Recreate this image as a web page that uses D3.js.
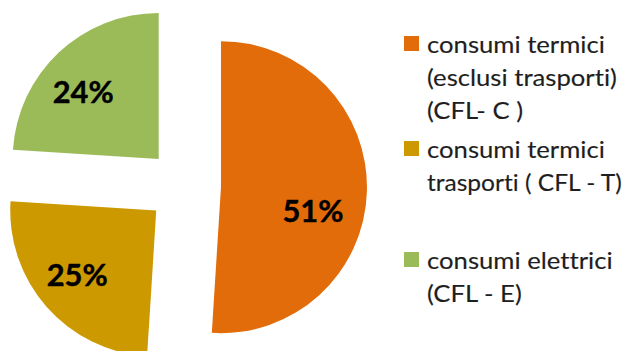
<!DOCTYPE html>
<html>
<head>
<meta charset="utf-8">
<script src="https://cdn.jsdelivr.net/npm/d3@7/dist/d3.min.js"></script>
<style>
  html, body { margin: 0; padding: 0; background: #ffffff; }
  svg { display: block; }
  text { font-variant-ligatures: none; }
</style>
</head>
<body>
<svg id="chart" width="624" height="351"></svg>
<script>
// ---- data ----
const categories = [
  "consumi termici\n(esclusi trasporti)\n(CFL- C )",
  "consumi termici\ntrasporti ( CFL - T)",
  "consumi elettrici\n(CFL - E)"
];
const values = [51, 25, 24];
const valueLabels = ["51%", "25%", "24%"];
const colors = ["#E36C0A", "#CC9900", "#9BBB59"];

// ---- layout ----
const W = 624, H = 351;
const cx = 184, cy = 186, radius = 146, explode = 37;
const labelRadius = 100;
const labelNudge = [[-8, 20], [-4, -2], [-7, 5]];
const legendX = 404, legendTextX = 427, sq = 15;
const legendBaselines = [53, 158, 269];
const lineH = 33;
const fontFamily = "Lato, 'Open Sans', 'Noto Sans', sans-serif";

const svg = d3.select("#chart");

const pie = d3.pie().sort(null).value(d => d)
  .startAngle(0).endAngle(2 * Math.PI);
const arcs = pie(values);
const arc = d3.arc().innerRadius(0).outerRadius(radius);
const labelArc = d3.arc().innerRadius(labelRadius).outerRadius(labelRadius);

const g = svg.append("g").attr("transform", `translate(${cx},${cy})`);

const slices = g.selectAll("g.slice").data(arcs).join("g")
  .attr("class", "slice")
  .attr("transform", d => {
    const mid = (d.startAngle + d.endAngle) / 2;
    return `translate(${explode * Math.sin(mid)},${-explode * Math.cos(mid)})`;
  });

slices.append("path")
  .attr("d", arc)
  .attr("fill", (d, i) => colors[i]);

function scaleAbout(node, s, x) {
  d3.select(node).attr("transform", `translate(${x},0) scale(${s},1) translate(${-x},0)`);
}

slices.append("text")
  .attr("x", (d, i) => labelArc.centroid(d)[0] + labelNudge[i][0])
  .attr("y", (d, i) => labelArc.centroid(d)[1] + labelNudge[i][1])
  .attr("text-anchor", "middle")
  .attr("dominant-baseline", "central")
  .attr("font-family", fontFamily)
  .attr("font-weight", "bold")
  .attr("font-size", 30)
  .attr("fill", "#000")
  .attr("stroke", "#000")
  .attr("stroke-width", 0.4)
  .text((d, i) => valueLabels[i])
  .each(function () {
    const w = this.getComputedTextLength();
    scaleAbout(this, 61 / w, +this.getAttribute("x"));
  });

// ---- legend ----
const legend = svg.append("g");
const items = legend.selectAll("g.item").data(categories).join("g").attr("class", "item");

items.append("rect")
  .attr("x", legendX)
  .attr("y", (d, i) => legendBaselines[i] - 17)
  .attr("width", sq).attr("height", sq)
  .attr("fill", (d, i) => colors[i]);

// horizontal fit so "(esclusi trasporti)" spans ~190px
const ref = svg.append("text").attr("font-family", fontFamily).attr("font-size", 24)
  .style("font-variant-ligatures", "none")
  .text("(esclusi trasporti)");
const refW = ref.node().getComputedTextLength();
ref.remove();
const sx = 190 / refW;

items.each(function (d, i) {
  const lines = d.split("\n");
  lines.forEach((line, j) => {
    const t = d3.select(this).append("text")
      .attr("x", legendTextX)
      .attr("y", legendBaselines[i] + j * lineH)
      .attr("font-family", fontFamily)
      .attr("font-size", 24)
      .attr("fill", "#1e1e1e")
      .attr("stroke", "#1e1e1e")
      .attr("stroke-width", 0.15)
      .text(line);
    const w = t.node().getComputedTextLength();
    const s = Math.min(sx, (W - 2 - legendTextX) / w);
    scaleAbout(t.node(), s, legendTextX);
  });
});
</script>
</body>
</html>
